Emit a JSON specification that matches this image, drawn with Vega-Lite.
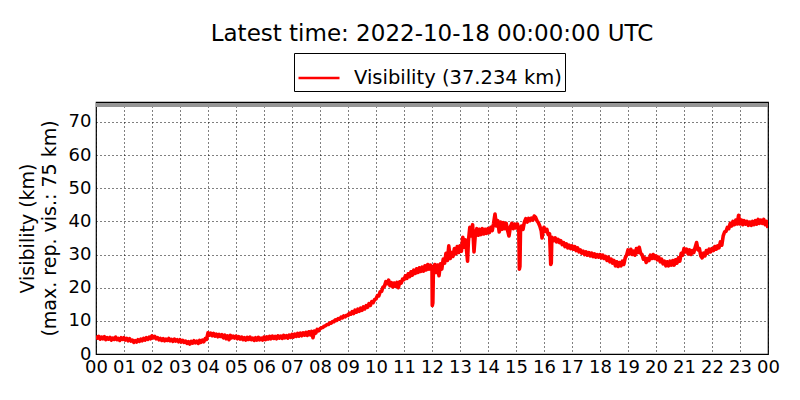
{
  "$schema": "https://vega.github.io/schema/vega-lite/v6.json",
  "autosize": {"type": "none"},
  "padding": {"left": 96, "top": 102, "right": 32, "bottom": 46},
  "width": 672,
  "height": 252,
  "background": "white",
  "title": {"text": "Latest time: 2022-10-18 00:00:00 UTC", "fontSize": 23, "font": "DejaVu Sans", "fontWeight": "normal", "color": "black", "anchor": "middle", "offset": 7},
  "config": {
    "font": "DejaVu Sans",
    "view": {"stroke": "black", "strokeWidth": 1.2},
    "axis": {"labelFont": "DejaVu Sans", "labelFontSize": 18, "labelColor": "black", "titleFont": "DejaVu Sans", "titleFontWeight": "normal", "titleColor": "black", "gridColor": "black", "gridDash": [1, 3], "gridOpacity": 1, "gridWidth": 1, "domain": false, "ticks": false}
  },
  "data": {"values": [
    {"h":0.00,"v":5.5},{"h":0.05,"v":4.8},{"h":0.10,"v":5.3},{"h":0.15,"v":4.5},{"h":0.20,"v":5.1},{"h":0.25,"v":4.6},{"h":0.30,"v":5.2},{"h":0.35,"v":4.3},{"h":0.40,"v":4.9},{"h":0.45,"v":4.5},
    {"h":0.50,"v":5.0},{"h":0.55,"v":4.2},{"h":0.60,"v":4.8},{"h":0.65,"v":4.4},{"h":0.70,"v":5.1},{"h":0.75,"v":4.3},{"h":0.80,"v":4.7},{"h":0.85,"v":4.1},{"h":0.90,"v":4.9},{"h":0.95,"v":4.4},
    {"h":1.00,"v":4.9},{"h":1.05,"v":4.2},{"h":1.10,"v":4.7},{"h":1.15,"v":4.0},{"h":1.20,"v":4.6},{"h":1.25,"v":3.9},{"h":1.30,"v":4.2},{"h":1.35,"v":3.5},{"h":1.40,"v":4.0},{"h":1.45,"v":3.6},
    {"h":1.50,"v":4.3},{"h":1.55,"v":3.8},{"h":1.60,"v":4.5},{"h":1.65,"v":4.0},{"h":1.70,"v":4.7},{"h":1.75,"v":4.2},{"h":1.80,"v":4.9},{"h":1.85,"v":4.4},{"h":1.90,"v":5.1},{"h":1.95,"v":4.6},
    {"h":2.00,"v":5.5},{"h":2.05,"v":4.9},{"h":2.10,"v":5.3},{"h":2.15,"v":4.6},{"h":2.20,"v":4.9},{"h":2.25,"v":4.3},{"h":2.30,"v":4.7},{"h":2.35,"v":4.1},{"h":2.40,"v":4.6},{"h":2.45,"v":4.0},
    {"h":2.50,"v":4.5},{"h":2.55,"v":4.1},{"h":2.60,"v":4.7},{"h":2.65,"v":4.0},{"h":2.70,"v":4.4},{"h":2.75,"v":3.8},{"h":2.80,"v":4.5},{"h":2.85,"v":3.9},{"h":2.90,"v":4.3},{"h":2.95,"v":3.7},
    {"h":3.00,"v":4.3},{"h":3.05,"v":3.6},{"h":3.10,"v":4.1},{"h":3.15,"v":3.5},{"h":3.20,"v":3.9},{"h":3.25,"v":3.2},{"h":3.30,"v":3.7},{"h":3.35,"v":3.0},{"h":3.40,"v":3.8},{"h":3.45,"v":3.3},
    {"h":3.50,"v":4.0},{"h":3.55,"v":3.4},{"h":3.60,"v":3.9},{"h":3.65,"v":3.2},{"h":3.70,"v":4.1},{"h":3.75,"v":3.5},{"h":3.80,"v":4.2},{"h":3.85,"v":3.7},{"h":3.90,"v":4.6},{"h":3.95,"v":4.4},
    {"h":4.00,"v":6.4},{"h":4.05,"v":5.7},{"h":4.10,"v":6.3},{"h":4.15,"v":5.5},{"h":4.20,"v":6.2},{"h":4.25,"v":5.4},{"h":4.30,"v":6.0},{"h":4.35,"v":5.2},{"h":4.40,"v":5.9},{"h":4.45,"v":5.3},
    {"h":4.50,"v":5.8},{"h":4.55,"v":4.9},{"h":4.60,"v":5.7},{"h":4.65,"v":4.6},{"h":4.70,"v":5.5},{"h":4.75,"v":4.3},{"h":4.80,"v":5.6},{"h":4.85,"v":4.9},{"h":4.90,"v":5.4},{"h":4.95,"v":4.8},
    {"h":5.00,"v":5.4},{"h":5.05,"v":4.6},{"h":5.10,"v":5.2},{"h":5.15,"v":4.5},{"h":5.20,"v":5.1},{"h":5.25,"v":4.3},{"h":5.30,"v":4.9},{"h":5.35,"v":4.2},{"h":5.40,"v":5.0},{"h":5.45,"v":4.4},
    {"h":5.50,"v":5.1},{"h":5.55,"v":4.3},{"h":5.60,"v":4.8},{"h":5.65,"v":4.1},{"h":5.70,"v":4.9},{"h":5.75,"v":4.2},{"h":5.80,"v":5.0},{"h":5.85,"v":4.3},{"h":5.90,"v":4.8},{"h":5.95,"v":4.2},
    {"h":6.00,"v":5.1},{"h":6.05,"v":4.3},{"h":6.10,"v":5.2},{"h":6.15,"v":4.5},{"h":6.20,"v":5.3},{"h":6.25,"v":4.6},{"h":6.30,"v":5.4},{"h":6.35,"v":4.7},{"h":6.40,"v":5.3},{"h":6.45,"v":4.6},
    {"h":6.50,"v":5.5},{"h":6.55,"v":4.8},{"h":6.60,"v":5.4},{"h":6.65,"v":4.7},{"h":6.70,"v":5.6},{"h":6.75,"v":4.9},{"h":6.80,"v":5.5},{"h":6.85,"v":4.8},{"h":6.90,"v":5.7},{"h":6.95,"v":5.0},
    {"h":7.00,"v":5.9},{"h":7.05,"v":5.1},{"h":7.10,"v":6.0},{"h":7.15,"v":5.3},{"h":7.20,"v":6.2},{"h":7.25,"v":5.4},{"h":7.30,"v":6.3},{"h":7.35,"v":5.5},{"h":7.40,"v":6.4},{"h":7.45,"v":5.7},
    {"h":7.50,"v":6.5},{"h":7.55,"v":5.6},{"h":7.60,"v":6.7},{"h":7.65,"v":5.8},{"h":7.70,"v":6.8},{"h":7.75,"v":4.9},{"h":7.80,"v":6.9},{"h":7.85,"v":6.3},{"h":7.90,"v":7.4},{"h":7.95,"v":7.0},
    {"h":8.00,"v":7.6},{"h":8.05,"v":7.9},{"h":8.10,"v":8.0},{"h":8.15,"v":8.4},{"h":8.20,"v":8.5},{"h":8.25,"v":8.9},{"h":8.30,"v":8.9},{"h":8.35,"v":9.4},{"h":8.40,"v":9.3},{"h":8.45,"v":9.8},
    {"h":8.50,"v":9.7},{"h":8.55,"v":10.3},{"h":8.60,"v":10.1},{"h":8.65,"v":10.7},{"h":8.70,"v":10.5},{"h":8.75,"v":11.1},{"h":8.80,"v":10.9},{"h":8.85,"v":11.5},{"h":8.90,"v":11.2},{"h":8.95,"v":11.7},
    {"h":9.00,"v":11.6},{"h":9.05,"v":12.3},{"h":9.10,"v":12.0},{"h":9.15,"v":12.8},{"h":9.20,"v":12.2},{"h":9.25,"v":13.2},{"h":9.30,"v":12.6},{"h":9.35,"v":13.5},{"h":9.40,"v":12.9},{"h":9.45,"v":13.8},
    {"h":9.50,"v":13.2},{"h":9.55,"v":14.2},{"h":9.60,"v":13.6},{"h":9.65,"v":14.6},{"h":9.70,"v":14.1},{"h":9.75,"v":15.2},{"h":9.80,"v":14.7},{"h":9.85,"v":15.8},{"h":9.90,"v":15.5},{"h":9.95,"v":16.4},
    {"h":10.00,"v":16.6},{"h":10.05,"v":17.6},{"h":10.10,"v":17.5},{"h":10.15,"v":18.8},{"h":10.20,"v":18.9},{"h":10.25,"v":20.2},{"h":10.30,"v":20.4},{"h":10.35,"v":21.8},{"h":10.40,"v":21.2},{"h":10.45,"v":22.3},
    {"h":10.50,"v":20.6},{"h":10.55,"v":21.5},{"h":10.60,"v":20.2},{"h":10.65,"v":21.4},{"h":10.70,"v":20.4},{"h":10.75,"v":21.6},{"h":10.80,"v":20.0},{"h":10.85,"v":21.8},{"h":10.90,"v":21.4},{"h":10.95,"v":22.6},
    {"h":11.00,"v":22.4},{"h":11.05,"v":23.6},{"h":11.10,"v":22.8},{"h":11.15,"v":24.2},{"h":11.20,"v":23.3},{"h":11.25,"v":24.8},{"h":11.30,"v":23.8},{"h":11.35,"v":25.3},{"h":11.40,"v":24.3},{"h":11.45,"v":25.7},
    {"h":11.50,"v":24.6},{"h":11.55,"v":26.0},{"h":11.60,"v":24.9},{"h":11.65,"v":26.2},{"h":11.70,"v":25.0},{"h":11.75,"v":26.6},{"h":11.80,"v":25.4},{"h":11.85,"v":27.0},{"h":11.90,"v":25.6},{"h":11.95,"v":26.8},
    {"h":12.00,"v":26.0},{"h":12.01,"v":14.6},{"h":12.03,"v":15.4},{"h":12.05,"v":25.4},{"h":12.10,"v":27.0},{"h":12.15,"v":24.6},{"h":12.20,"v":26.8},{"h":12.25,"v":23.6},{"h":12.30,"v":27.2},{"h":12.35,"v":25.6},
    {"h":12.40,"v":28.6},{"h":12.45,"v":27.4},{"h":12.50,"v":30.4},{"h":12.55,"v":28.2},{"h":12.60,"v":32.6},{"h":12.65,"v":28.8},{"h":12.70,"v":30.6},{"h":12.75,"v":29.4},{"h":12.80,"v":31.8},{"h":12.85,"v":30.2},{"h":12.90,"v":32.4},{"h":12.95,"v":30.6},
    {"h":13.00,"v":32.6},{"h":13.05,"v":31.0},{"h":13.10,"v":35.2},{"h":13.15,"v":32.2},{"h":13.20,"v":34.4},{"h":13.25,"v":29.8},{"h":13.27,"v":28.0},{"h":13.30,"v":34.0},{"h":13.35,"v":38.2},{"h":13.40,"v":35.6},
    {"h":13.45,"v":39.0},{"h":13.50,"v":30.8},{"h":13.55,"v":36.4},{"h":13.60,"v":37.8},{"h":13.65,"v":35.8},{"h":13.70,"v":37.6},{"h":13.75,"v":36.0},{"h":13.80,"v":37.8},{"h":13.85,"v":36.2},{"h":13.90,"v":37.6},{"h":13.95,"v":36.4},
    {"h":14.00,"v":37.8},{"h":14.05,"v":36.6},{"h":14.10,"v":38.2},{"h":14.15,"v":37.2},{"h":14.20,"v":39.4},{"h":14.25,"v":42.2},{"h":14.30,"v":38.6},{"h":14.35,"v":40.2},{"h":14.40,"v":36.8},{"h":14.45,"v":39.8},
    {"h":14.50,"v":37.6},{"h":14.55,"v":39.6},{"h":14.60,"v":37.8},{"h":14.65,"v":39.4},{"h":14.70,"v":37.2},{"h":14.75,"v":35.6},{"h":14.80,"v":38.4},{"h":14.85,"v":39.4},{"h":14.90,"v":37.8},{"h":14.95,"v":39.2},
    {"h":15.00,"v":38.0},{"h":15.05,"v":39.2},{"h":15.10,"v":37.6},{"h":15.12,"v":25.6},{"h":15.14,"v":26.4},{"h":15.16,"v":37.2},{"h":15.20,"v":38.6},{"h":15.25,"v":37.6},{"h":15.30,"v":39.8},{"h":15.35,"v":40.8},
    {"h":15.40,"v":39.8},{"h":15.45,"v":40.9},{"h":15.50,"v":40.2},{"h":15.55,"v":41.0},{"h":15.60,"v":40.4},{"h":15.65,"v":41.6},{"h":15.70,"v":41.2},{"h":15.75,"v":40.2},{"h":15.80,"v":39.6},{"h":15.85,"v":38.6},
    {"h":15.90,"v":37.2},{"h":15.93,"v":35.0},{"h":15.96,"v":37.0},
    {"h":16.00,"v":38.2},{"h":16.05,"v":37.0},{"h":16.10,"v":37.6},{"h":16.15,"v":36.0},{"h":16.20,"v":36.2},{"h":16.24,"v":27.0},{"h":16.26,"v":27.4},{"h":16.28,"v":35.2},{"h":16.35,"v":34.2},{"h":16.40,"v":35.0},
    {"h":16.45,"v":33.8},{"h":16.50,"v":34.6},{"h":16.55,"v":33.6},{"h":16.60,"v":34.2},{"h":16.65,"v":33.0},{"h":16.70,"v":33.6},{"h":16.75,"v":32.4},{"h":16.80,"v":33.2},{"h":16.85,"v":32.0},{"h":16.90,"v":32.8},{"h":16.95,"v":31.8},
    {"h":17.00,"v":32.6},{"h":17.05,"v":31.6},{"h":17.10,"v":32.4},{"h":17.15,"v":31.2},{"h":17.20,"v":32.0},{"h":17.25,"v":30.8},{"h":17.30,"v":31.4},{"h":17.35,"v":30.4},{"h":17.40,"v":31.0},{"h":17.45,"v":30.0},
    {"h":17.50,"v":30.8},{"h":17.55,"v":29.8},{"h":17.60,"v":30.6},{"h":17.65,"v":29.6},{"h":17.70,"v":30.4},{"h":17.75,"v":29.4},{"h":17.80,"v":30.2},{"h":17.85,"v":29.2},{"h":17.90,"v":30.0},{"h":17.95,"v":29.2},
    {"h":18.00,"v":30.0},{"h":18.05,"v":29.0},{"h":18.10,"v":29.8},{"h":18.15,"v":28.8},{"h":18.20,"v":29.4},{"h":18.25,"v":28.2},{"h":18.30,"v":29.2},{"h":18.35,"v":27.8},{"h":18.40,"v":28.6},{"h":18.45,"v":27.4},
    {"h":18.50,"v":28.2},{"h":18.55,"v":26.6},{"h":18.60,"v":27.8},{"h":18.65,"v":26.4},{"h":18.70,"v":27.6},{"h":18.75,"v":26.6},{"h":18.80,"v":28.0},{"h":18.85,"v":27.0},{"h":18.90,"v":29.0},{"h":18.95,"v":29.8},
    {"h":19.00,"v":31.4},{"h":19.05,"v":30.2},{"h":19.10,"v":31.6},{"h":19.15,"v":30.0},{"h":19.20,"v":31.0},{"h":19.25,"v":29.8},{"h":19.30,"v":31.8},{"h":19.35,"v":30.6},{"h":19.40,"v":32.2},{"h":19.45,"v":30.4},
    {"h":19.50,"v":30.0},{"h":19.55,"v":28.6},{"h":19.60,"v":29.0},{"h":19.65,"v":27.6},{"h":19.70,"v":28.8},{"h":19.75,"v":28.2},{"h":19.80,"v":29.8},{"h":19.85,"v":28.8},{"h":19.90,"v":30.0},{"h":19.95,"v":28.8},
    {"h":20.00,"v":29.6},{"h":20.05,"v":28.4},{"h":20.10,"v":29.2},{"h":20.15,"v":27.8},{"h":20.20,"v":28.6},{"h":20.25,"v":27.2},{"h":20.30,"v":28.0},{"h":20.35,"v":26.6},{"h":20.40,"v":27.8},{"h":20.45,"v":26.6},
    {"h":20.50,"v":28.0},{"h":20.55,"v":26.8},{"h":20.60,"v":28.2},{"h":20.65,"v":26.8},{"h":20.70,"v":28.4},{"h":20.75,"v":27.4},{"h":20.80,"v":29.0},{"h":20.85,"v":28.0},{"h":20.90,"v":30.4},{"h":20.95,"v":29.8},
    {"h":21.00,"v":31.8},{"h":21.05,"v":30.8},{"h":21.10,"v":31.6},{"h":21.15,"v":30.2},{"h":21.20,"v":31.4},{"h":21.25,"v":30.0},{"h":21.30,"v":31.2},{"h":21.35,"v":30.6},{"h":21.40,"v":32.2},{"h":21.45,"v":33.6},
    {"h":21.50,"v":31.4},{"h":21.55,"v":31.8},{"h":21.60,"v":29.6},{"h":21.65,"v":29.0},{"h":21.70,"v":30.4},{"h":21.75,"v":29.6},{"h":21.80,"v":31.2},{"h":21.85,"v":30.4},{"h":21.90,"v":31.6},{"h":21.95,"v":30.8},
    {"h":22.00,"v":31.8},{"h":22.05,"v":31.2},{"h":22.10,"v":32.4},{"h":22.15,"v":31.6},{"h":22.20,"v":32.6},{"h":22.25,"v":32.0},{"h":22.30,"v":33.8},{"h":22.35,"v":32.8},{"h":22.40,"v":35.6},{"h":22.45,"v":36.8},
    {"h":22.50,"v":37.0},{"h":22.55,"v":38.2},{"h":22.60,"v":37.8},{"h":22.65,"v":39.4},{"h":22.70,"v":38.6},{"h":22.75,"v":40.0},{"h":22.80,"v":39.0},{"h":22.85,"v":40.4},{"h":22.90,"v":39.2},{"h":22.95,"v":41.8},
    {"h":23.00,"v":39.2},{"h":23.05,"v":40.4},{"h":23.10,"v":39.0},{"h":23.15,"v":40.2},{"h":23.20,"v":39.2},{"h":23.25,"v":40.0},{"h":23.30,"v":38.8},{"h":23.35,"v":39.8},{"h":23.40,"v":38.8},{"h":23.45,"v":40.0},
    {"h":23.50,"v":39.0},{"h":23.55,"v":40.2},{"h":23.60,"v":39.2},{"h":23.65,"v":40.6},{"h":23.70,"v":39.4},{"h":23.75,"v":40.4},{"h":23.80,"v":39.4},{"h":23.85,"v":40.6},{"h":23.90,"v":39.0},{"h":23.95,"v":40.0},{"h":24.00,"v":38.0}
  ]},
  "encoding": {
    "x": {"field": "h", "type": "quantitative", "title": null,
      "scale": {"domain": [0, 24], "nice": false, "zero": false},
      "axis": {"values": [0,1,2,3,4,5,6,7,8,9,10,11,12,13,14,15,16,17,18,19,20,21,22,23,24], "labelOverlap": false, "labelFlush": false, "labelPadding": 4, "labelExpr": "(datum.value % 24) < 10 ? '0' + (datum.value % 24) : '' + datum.value"}
    },
    "y": {"field": "v", "type": "quantitative",
      "title": ["Visibility (km)", "(max. rep. vis.: 75 km)"],
      "scale": {"domain": [0, 76], "nice": false},
      "axis": {"values": [0,10,20,30,40,50,60,70], "labelPadding": 5, "titleFontSize": 19, "titleLineHeight": 22, "titleX": -69, "titleY": 126, "titleAngle": -90, "titleAlign": "center", "titleBaseline": "middle"}
    }
  },
  "layer": [
    {
      "mark": {"type": "rule", "color": "#959595", "strokeWidth": 3.5},
      "encoding": {"y": {"datum": 75}, "x": {"datum": 0}, "x2": {"datum": 24}}
    },
    {
      "mark": {"type": "line", "strokeWidth": 3.6, "strokeJoin": "round", "clip": true},
      "encoding": {
        "color": {"datum": "Visibility (37.234 km)", "type": "nominal",
          "scale": {"range": ["#ff0000"]},
          "legend": {"title": null, "orient": "none", "legendX": 198, "legendY": -49, "symbolType": "stroke", "symbolSize": 1681, "symbolStrokeWidth": 2.5, "labelFontSize": 19.5, "labelFont": "DejaVu Sans", "labelColor": "black", "labelOffset": 13, "labelLimit": 400, "strokeColor": "black", "fillColor": "white", "padding": 3}
        }
      }
    }
  ]
}
